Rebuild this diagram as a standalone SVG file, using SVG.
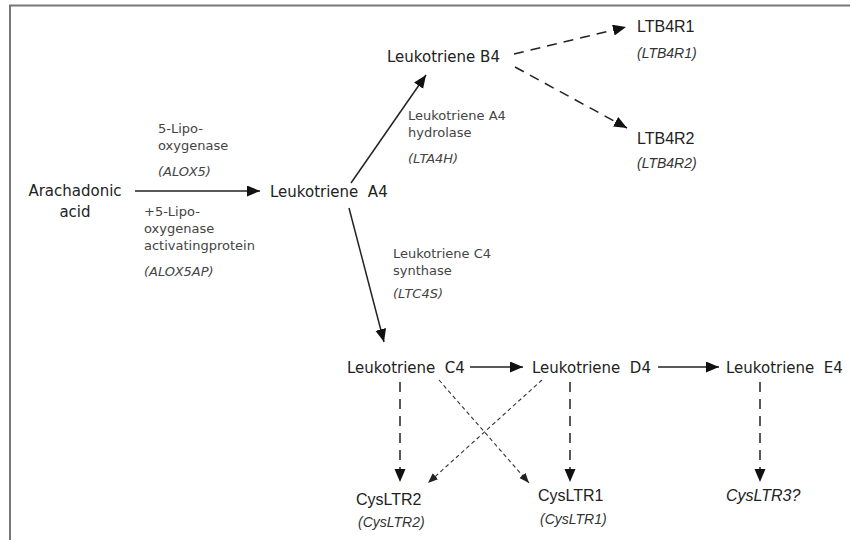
<svg xmlns="http://www.w3.org/2000/svg" width="850" height="540" viewBox="0 0 850 540">
<defs>
<style>
.node{font-family:"DejaVu Sans",sans-serif;font-size:15px;fill:#222;white-space:pre}
.rec{font-family:"Liberation Sans",Arial,sans-serif;font-size:16px;fill:#222}
.gene{font-family:"Liberation Sans",Arial,sans-serif;font-size:14px;font-style:italic;fill:#333}
.enz{font-family:"DejaVu Sans",sans-serif;font-size:13px;fill:#444}
.enzi{font-family:"DejaVu Sans",sans-serif;font-size:13px;font-style:italic;fill:#444}
.solid{stroke:#222;stroke-width:1.5;fill:none}
.dash{stroke:#222;stroke-width:1.5;fill:none;stroke-dasharray:10 7}
.dot{stroke:#333;stroke-width:1.1;fill:none;stroke-dasharray:4 3}
</style>
<marker id="ah" markerUnits="userSpaceOnUse" markerWidth="14" markerHeight="12" refX="13" refY="5.5" orient="auto">
<path d="M0,0 L13,5.5 L0,11 z" fill="#111"/>
</marker>
<marker id="ahs" markerUnits="userSpaceOnUse" markerWidth="11" markerHeight="9" refX="10" refY="4" orient="auto">
<path d="M0,0 L10,4 L0,8 z" fill="#222"/>
</marker>
</defs>
<rect width="850" height="540" fill="#fff"/>
<g id="frame" stroke="#777" stroke-width="2" fill="none">
<path d="M10,540 L10,5.5 L850,5.5"/>
</g>

<g id="connectors">
<line class="solid" x1="135" y1="191" x2="260" y2="191" marker-end="url(#ah)"/>
<line class="solid" x1="351" y1="183" x2="426" y2="75" marker-end="url(#ah)"/>
<line class="solid" x1="349" y1="208" x2="384" y2="342" marker-end="url(#ah)"/>
<line class="dash" x1="514" y1="54" x2="626" y2="27" marker-end="url(#ah)"/>
<line class="dash" x1="515" y1="67" x2="627" y2="128" marker-end="url(#ah)"/>
<line class="solid" x1="470" y1="367" x2="523" y2="367" marker-end="url(#ah)"/>
<line class="solid" x1="658" y1="367" x2="719" y2="367" marker-end="url(#ah)"/>
<line class="dash" x1="400" y1="382" x2="400" y2="482" marker-end="url(#ah)"/>
<line class="dash" x1="570" y1="382" x2="570" y2="482" marker-end="url(#ah)"/>
<line class="dash" x1="760" y1="382" x2="760" y2="482" marker-end="url(#ah)"/>
<line class="dot" x1="439" y1="380" x2="529" y2="483" marker-end="url(#ahs)"/>
<line class="dot" x1="542" y1="380" x2="428" y2="483" marker-end="url(#ahs)"/>
</g>

<g id="arachidonic">
<text class="node" x="75" y="196" text-anchor="middle">Arachadonic</text>
<text class="node" x="75" y="217" text-anchor="middle">acid</text>
</g>
<g id="enzyme-alox5">
<text class="enz" x="158" y="133">5-Lipo-</text>
<text class="enz" x="158" y="150">oxygenase</text>
<text class="enzi" x="158" y="176">(ALOX5)</text>
</g>
<g id="enzyme-alox5ap">
<text class="enz" x="144" y="216">+5-Lipo-</text>
<text class="enz" x="144" y="233">oxygenase</text>
<text class="enz" x="144" y="250">activatingprotein</text>
<text class="enzi" x="144" y="276">(ALOX5AP)</text>
</g>
<g id="lta4">
<text class="node" x="270" y="197">Leukotriene  A4</text>
</g>
<g id="ltb4">
<text class="node" x="387" y="62">Leukotriene B4</text>
</g>
<g id="enzyme-lta4h">
<text class="enz" x="408" y="120">Leukotriene A4</text>
<text class="enz" x="408" y="137">hydrolase</text>
<text class="enzi" x="408" y="163">(LTA4H)</text>
</g>
<g id="ltb4r1">
<text class="rec" x="637" y="32">LTB4R1</text>
<text class="gene" x="637" y="58">(LTB4R1)</text>
</g>
<g id="ltb4r2">
<text class="rec" x="637" y="144">LTB4R2</text>
<text class="gene" x="637" y="168">(LTB4R2)</text>
</g>
<g id="enzyme-ltc4s">
<text class="enz" x="393" y="258">Leukotriene C4</text>
<text class="enz" x="393" y="275">synthase</text>
<text class="enzi" x="393" y="298">(LTC4S)</text>
</g>
<g id="ltc4">
<text class="node" x="347" y="373">Leukotriene  C4</text>
</g>
<g id="ltd4">
<text class="node" x="532" y="373">Leukotriene  D4</text>
</g>
<g id="lte4">
<text class="node" x="726" y="373">Leukotriene  E4</text>
</g>
<g id="cysltr2">
<text class="rec" x="356" y="505">CysLTR2</text>
<text class="gene" x="358" y="527">(CysLTR2)</text>
</g>
<g id="cysltr1">
<text class="rec" x="538" y="501">CysLTR1</text>
<text class="gene" x="540" y="524">(CysLTR1)</text>
</g>
<g id="cysltr3">
<text class="rec" x="726" y="501" font-style="italic">CysLTR3?</text>
</g>
</svg>
